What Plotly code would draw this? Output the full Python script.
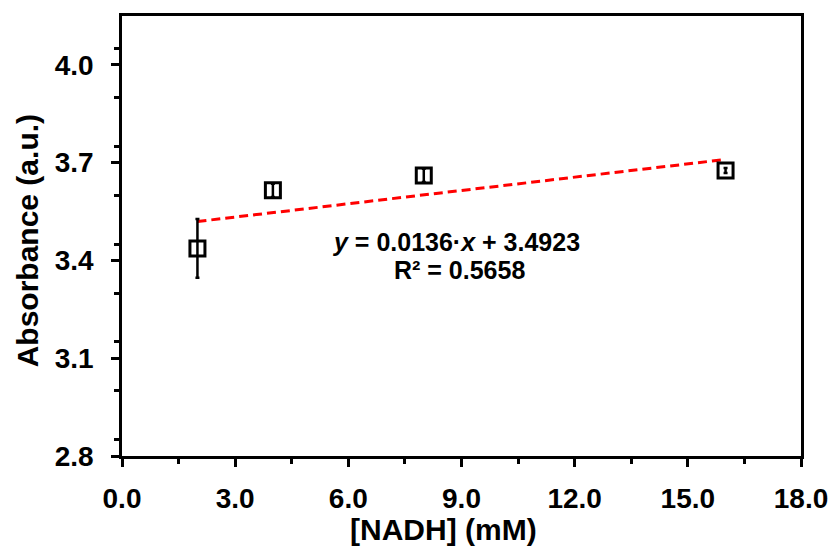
import plotly.graph_objects as go

# NADH concentration (mM) and measured absorbance (a.u.)
nadh_mM = [2, 4, 8, 16]
absorbance = [3.437, 3.615, 3.661, 3.676]
absorbance_err = [0.09, 0.02, 0.02, 0.008]

# Linear fit reported on the chart
slope = 0.0136
intercept = 3.4923
r_squared = 0.5658

x_ticks = [0, 3, 6, 9, 12, 15, 18]
y_ticks = [2.8, 3.1, 3.4, 3.7, 4.0]

font_family = "Liberation Sans, Arial, sans-serif"

fit_x = [min(nadh_mM), max(nadh_mM)]
fit_y = [slope * v + intercept for v in fit_x]

fig = go.Figure()

fig.add_trace(go.Scatter(
    x=fit_x, y=fit_y, mode="lines",
    line=dict(color="#FF0000", width=3, dash="9px,5px"),
    hoverinfo="skip", showlegend=False,
))

fig.add_trace(go.Scatter(
    x=nadh_mM, y=absorbance, mode="markers",
    marker=dict(symbol="square-open", size=15, color="black",
                line=dict(color="black", width=3)),
    error_y=dict(type="data", array=absorbance_err, visible=True,
                 color="black", thickness=2.5, width=2),
    showlegend=False,
))

label_font = dict(family=font_family, size=25, color="black", weight="bold")
fig.add_annotation(
    x=8.85, y=3.458, xref="x", yref="y", showarrow=False,
    text=f"<i>y</i> = {slope:.4f}·<i>x</i> + {intercept:.4f}", font=label_font,
)
fig.add_annotation(
    x=8.95, y=3.37, xref="x", yref="y", showarrow=False,
    text=f"R² = {r_squared:.4f}", font=label_font,
)

# Axis titles
title_font = dict(family=font_family, size=30, color="black", weight="bold")
fig.add_annotation(
    x=0.473, y=-0.168, xref="paper", yref="paper", showarrow=False,
    xanchor="center", yanchor="middle", text="[NADH] (mM)", font=title_font,
)
fig.add_annotation(
    x=-0.14, y=0.49, xref="paper", yref="paper", showarrow=False,
    xanchor="center", yanchor="middle", textangle=-90,
    text="Absorbance (a.u.)", font=title_font,
)

axis_common = dict(
    showgrid=False, zeroline=False, automargin=False,
    showline=True, linecolor="black", linewidth=2.5, mirror=True,
    ticks="outside", ticklen=8, tickwidth=2.5, tickcolor="black",
    tickfont=dict(family=font_family, size=28, color="black", weight="bold"),
)

fig.update_xaxes(
    range=[0, 18], tickvals=x_ticks, tickformat=".1f",
    minor=dict(ticks="outside", ticklen=5, tickwidth=2.5, tickcolor="black", dtick=1.5),
    ticklabelstandoff=8,
    **axis_common,
)
fig.update_yaxes(
    range=[2.8, 4.15], tickvals=y_ticks, tickformat=".1f",
    minor=dict(ticks="outside", ticklen=5, tickwidth=2.5, tickcolor="black", dtick=0.15),
    ticklabelstandoff=12,
    **axis_common,
)

fig.update_layout(
    width=832, height=552,
    margin=dict(l=122, r=31, t=16, b=96),
    paper_bgcolor="white", plot_bgcolor="white",
    showlegend=False,
)

fig.write_html("out.html")
